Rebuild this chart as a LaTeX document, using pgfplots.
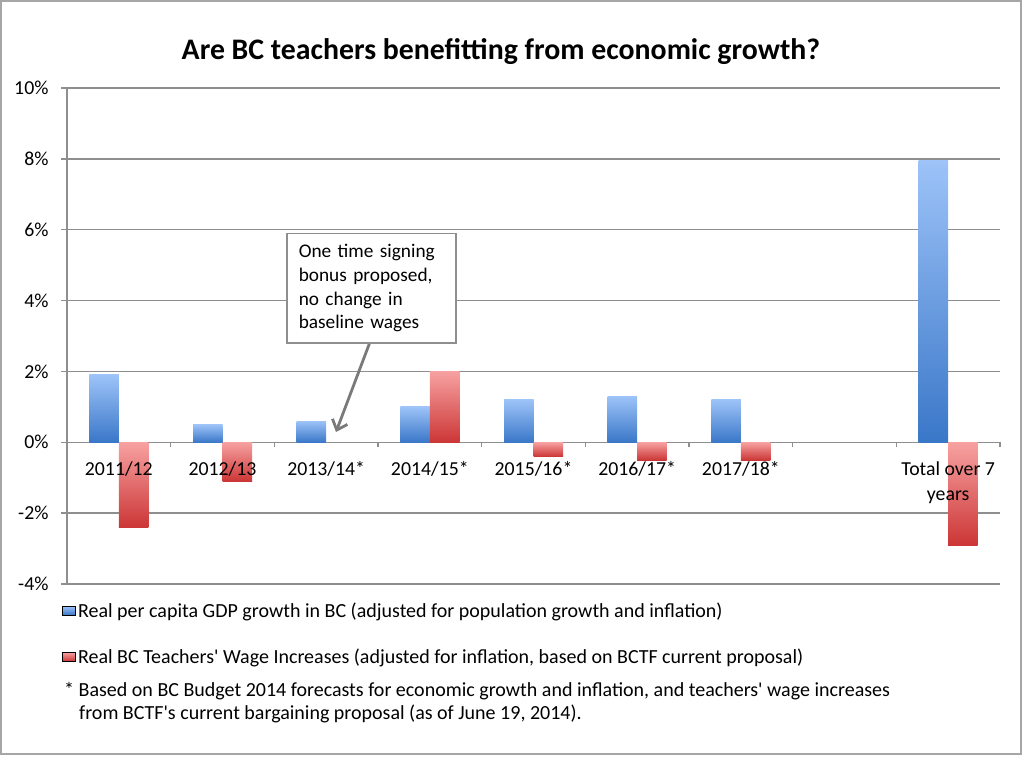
\documentclass[border=0pt]{standalone}
\usepackage{fontspec}
\setmainfont{Carlito}
\usepackage{pgfplots}
\pgfplotsset{compat=1.18}
\usetikzlibrary{arrows.meta}
\definecolor{bluetop}{HTML}{9DC3F8}
\definecolor{bluebot}{HTML}{3A77C8}
\definecolor{redtop}{HTML}{F7A1A1}
\definecolor{redbot}{HTML}{CC3636}
\definecolor{gridgray}{HTML}{8E8E8E}
\definecolor{framegray}{HTML}{A6A6A6}
\definecolor{arrowgray}{HTML}{7A7A7A}
\pgfplotsset{
  common/.style={
    at={(67pt,172pt)}, anchor=south west,
    scale only axis, width=933pt, height=496pt,
    xmin=-0.5, xmax=8.5, ymin=-4, ymax=10,
    axis y line=left, axis x line=middle,
    hide obscured x ticks=false, hide obscured y ticks=false,
    xtick={0,...,8},
    tick align=outside,
    major tick length=6pt, minor tick length=5pt,
    ticklabel style={font=\fontsize{19.8}{25}\selectfont},
    xticklabel style={align=center, yshift=-10pt},
    yticklabel style={xshift=-9pt},
  },
  bbar/.style={ybar, bar width=29.5pt, bar shift=-14.75pt, draw=none,
    top color=bluetop, bottom color=bluebot, forget plot},
  rbar/.style={ybar, bar width=29.5pt, bar shift=14.75pt, draw=none,
    top color=redtop, bottom color=redbot, forget plot},
}
\begin{document}
\begin{tikzpicture}[x=1pt,y=1pt]
\useasboundingbox (0,0) rectangle (1024,756);
\draw[framegray, line width=1.5pt] (1,2) rectangle (1021,755);
\node[font=\fontsize{29.8}{34}\selectfont\bfseries] at (501,704) {Are BC teachers benefitting from economic growth?};
\begin{axis}[
  common,
  x axis line style={-, draw=gridgray, line width=1.3pt},
  y axis line style={-, draw=gridgray, line width=1.3pt},
  ytick={-4,-2,...,10},
  yticklabels={-4\%,-2\%,0\%,2\%,4\%,6\%,8\%,10\%},
  ymajorgrids, grid style={gridgray, line width=1.3pt},
  xticklabels={},
  minor xtick={-0.5,0.5,...,8.5},
  every major x tick/.append style={draw=none},
  tick style={gridgray, line width=1.3pt},
  legend style={at={(-0.0054,-0.034)}, anchor=north west, draw=none, fill=none,
    font=\fontsize{20}{24}\selectfont, row sep=27pt, inner sep=0pt,
    nodes={inner ysep=1.5pt, inner xsep=2.5pt}},
  legend cell align=left,
]
% Real per capita GDP growth in BC
\addplot[bbar] coordinates {(0,1.9)};
\addplot[bbar] coordinates {(1,0.5)};
\addplot[bbar] coordinates {(2,0.6)};
\addplot[bbar] coordinates {(3,1.0)};
\addplot[bbar] coordinates {(4,1.2)};
\addplot[bbar] coordinates {(5,1.3)};
\addplot[bbar] coordinates {(6,1.2)};
\addplot[bbar] coordinates {(8,7.95)};
% Real BC teachers' wage increases
\addplot[rbar] coordinates {(0,-2.4)};
\addplot[rbar] coordinates {(1,-1.1)};
\addplot[rbar] coordinates {(3,2.0)};
\addplot[rbar] coordinates {(4,-0.4)};
\addplot[rbar] coordinates {(5,-0.5)};
\addplot[rbar] coordinates {(6,-0.5)};
\addplot[rbar] coordinates {(8,-2.9)};
\addlegendimage{legend image code/.code={\fill[top color=bluetop,bottom color=bluebot] (0pt,-4.5pt) rectangle (13pt,4.5pt);}}
\addlegendentry{Real per capita GDP growth in BC (adjusted for population growth and inflation)}
\addlegendimage{legend image code/.code={\fill[top color=redtop,bottom color=redbot] (0pt,-4.5pt) rectangle (13pt,4.5pt);}}
\addlegendentry{Real BC Teachers\textquotesingle\ Wage Increases (adjusted for inflation, based on BCTF current proposal)}
\end{axis}
\begin{axis}[
  common,
  axis line style={draw=none},
  tick style={draw=none},
  ytick=\empty,
  xticklabels={2011/12,2012/13,2013/14*,2014/15*,2015/16*,2016/17*,2017/18*,,Total over 7\\years},
]
\end{axis}
\node[anchor=base west, inner sep=0pt, font=\fontsize{20}{24}\selectfont] at (64,60) {* Based on BC Budget 2014 forecasts for economic growth and inflation, and teachers\textquotesingle\ wage increases};
\node[anchor=base west, inner sep=0pt, font=\fontsize{20}{24}\selectfont] at (79,37) {from BCTF\textquotesingle s current bargaining proposal (as of June 19, 2014).};
\draw[arrowgray, line width=2.8pt, -{Straight Barb[length=9pt,width=16pt]}] (370,414) -- (336,324);
\node[draw=gridgray, line width=1.5pt, fill=white, anchor=north west, minimum width=169pt, minimum height=109pt, inner xsep=12pt, text width=145pt, align=left, font=\fontsize{19.3}{23.7}\selectfont] at (286,523) {One time signing\\bonus proposed,\\no change in\\baseline wages};
\end{tikzpicture}
\end{document}
